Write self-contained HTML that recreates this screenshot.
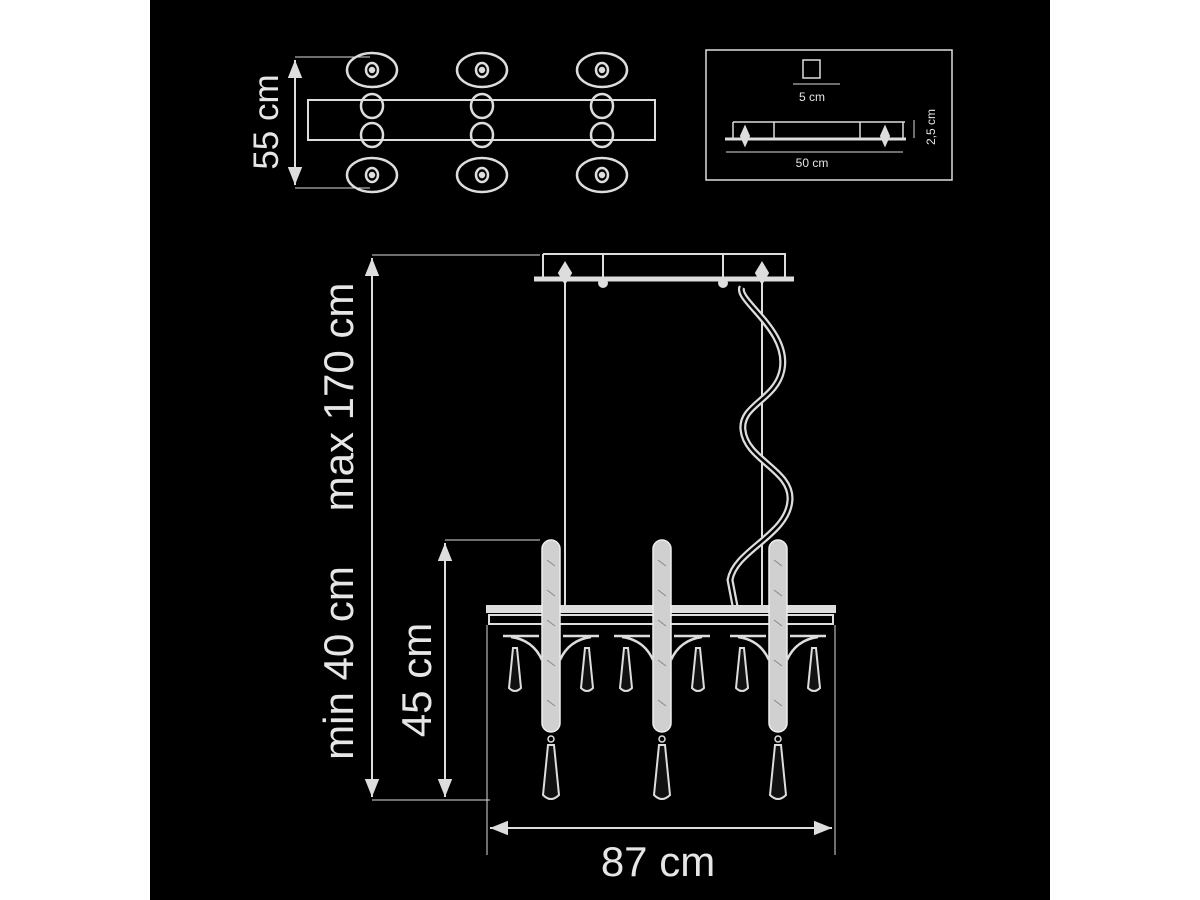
<!DOCTYPE html>
<html><head><style>html,body{margin:0;padding:0;background:#fff}svg{display:block}</style></head>
<body>
<svg width="1200" height="900" xmlns="http://www.w3.org/2000/svg" font-family="Liberation Sans, sans-serif">
<defs>
<marker id="ar" viewBox="0 0 10 10" refX="10" refY="5" markerWidth="9" markerHeight="9" orient="auto-start-reverse"><path d="M0,1 L10,5 L0,9 Z" fill="#ddd"/></marker>
<g id="lamp">
 <rect x="-9" y="540" width="18" height="192" rx="9" fill="#d0d0d0" stroke="#eee" stroke-width="1.5"/>
 <path d="M-4,560 l8,6 M-4,590 l8,6 M-4,620 l8,6 M-4,660 l8,6 M-4,700 l8,6" stroke="#888" stroke-width="1"/>
 <circle cx="0" cy="739" r="3" fill="none" stroke="#ddd" stroke-width="1.5"/>
 <path d="M-3,745 L3,745 L8,795 Q0,803 -8,795 Z" fill="#111" stroke="#ddd" stroke-width="2"/>
 <path d="M-48,636 L-12,636 M12,636 L48,636 M-40,637 Q-18,640 -9,660 M40,637 Q18,640 9,660" fill="none" stroke="#ddd" stroke-width="2.5"/>
 <path d="M-38,648 L-34,648 L-30,688 Q-36,694 -42,688 Z" fill="#111" stroke="#ddd" stroke-width="2"/>
 <path d="M34,648 L38,648 L42,688 Q36,694 30,688 Z" fill="#111" stroke="#ddd" stroke-width="2"/>
</g>
</defs>
<rect x="150" y="0" width="900" height="900" fill="#000"/>
<g stroke="#ddd" fill="none" stroke-width="2">
 <rect x="308" y="100" width="347" height="40"/>
 <g id="col" stroke-width="2.5">
  <ellipse cx="372" cy="70" rx="25" ry="17"/><ellipse cx="372" cy="70" rx="6" ry="7"/><circle cx="372" cy="70" r="2" fill="#ddd"/>
  <ellipse cx="372" cy="175" rx="25" ry="17"/><ellipse cx="372" cy="175" rx="6" ry="7"/><circle cx="372" cy="175" r="2" fill="#ddd"/>
  <ellipse cx="372" cy="106" rx="11" ry="12"/><ellipse cx="372" cy="135" rx="11" ry="12"/>
 </g>
 <use href="#col" x="110"/><use href="#col" x="230"/>
 <line x1="295" y1="57" x2="370" y2="57" stroke-width="1"/>
 <line x1="295" y1="188" x2="370" y2="188" stroke-width="1"/>
 <line x1="295" y1="60" x2="295" y2="185" marker-start="url(#ar)" marker-end="url(#ar)"/>
 <rect x="706" y="50" width="246" height="130" stroke-width="1.5"/>
 <rect x="803" y="60" width="17" height="18" stroke-width="1.5"/>
 <line x1="793" y1="84" x2="840" y2="84" stroke-width="1"/>
 <path d="M733,122 L905,122 M733,122 V138 M774,122 V138 M860,122 V138 M903,122 V138" stroke-width="1.5"/>
 <line x1="725" y1="139" x2="906" y2="139" stroke-width="3"/>
 <path d="M745,127 l-4,9 4,9 4,-9 Z M885,127 l-4,9 4,9 4,-9 Z" fill="#ddd"/>
 <line x1="726" y1="152" x2="903" y2="152" stroke-width="1"/>
 <line x1="914" y1="120" x2="914" y2="138" stroke-width="1"/>
 <path d="M543,254 L786,254 M543,254 V279 M603,254 V279 M723,254 V279 M785,254 V279" stroke-width="2"/>
 <line x1="534" y1="279" x2="794" y2="279" stroke-width="5"/>
 <circle cx="603" cy="283" r="4" fill="#ddd"/><circle cx="723" cy="283" r="4" fill="#ddd"/>
 <path d="M565,263 l-6,10 6,10 6,-10 Z M762,263 l-6,10 6,10 6,-10 Z" fill="#ddd"/>
 <line x1="565" y1="282" x2="565" y2="606"/>
 <line x1="762" y1="282" x2="762" y2="606"/>
 <path d="M742,287 C735,300 790,330 782,370 C776,400 740,405 743,430 C746,460 792,470 790,500 C788,535 735,550 730,580 L735,606" stroke-width="7"/>
 <path d="M742,287 C735,300 790,330 782,370 C776,400 740,405 743,430 C746,460 792,470 790,500 C788,535 735,550 730,580 L735,606" stroke="#000" stroke-width="2.5"/>
 <rect x="487" y="606" width="348" height="6" fill="#ddd"/>
 <rect x="489" y="615" width="344" height="9"/>
 <line x1="372" y1="255" x2="540" y2="255" stroke-width="1"/>
 <line x1="372" y1="800" x2="490" y2="800" stroke-width="1"/>
 <line x1="372" y1="258" x2="372" y2="797" marker-start="url(#ar)" marker-end="url(#ar)"/>
 <line x1="445" y1="540" x2="540" y2="540" stroke-width="1"/>
 <line x1="445" y1="543" x2="445" y2="797" marker-start="url(#ar)" marker-end="url(#ar)"/>
 <line x1="487" y1="625" x2="487" y2="855" stroke-width="1"/>
 <line x1="835" y1="625" x2="835" y2="855" stroke-width="1"/>
 <line x1="490" y1="828" x2="832" y2="828" marker-start="url(#ar)" marker-end="url(#ar)"/>
</g>
<use href="#lamp" x="551"/><use href="#lamp" x="662"/><use href="#lamp" x="778"/>
<g fill="#e6e6e6">
 <text transform="translate(278,122) rotate(-90)" font-size="35" text-anchor="middle">55 cm</text>
 <text x="812" y="101" font-size="12" text-anchor="middle">5 cm</text>
 <text x="812" y="167" font-size="12" text-anchor="middle">50 cm</text>
 <text transform="translate(935,127) rotate(-90)" font-size="12" text-anchor="middle">2,5 cm</text>
 <text transform="translate(353,397) rotate(-90)" font-size="42" text-anchor="middle">max 170 cm</text>
 <text transform="translate(353,663) rotate(-90)" font-size="42" text-anchor="middle">min 40 cm</text>
 <text transform="translate(431,680) rotate(-90)" font-size="42" text-anchor="middle">45 cm</text>
 <text x="658" y="876" font-size="42" text-anchor="middle">87 cm</text>
</g>
</svg>
</body></html>
